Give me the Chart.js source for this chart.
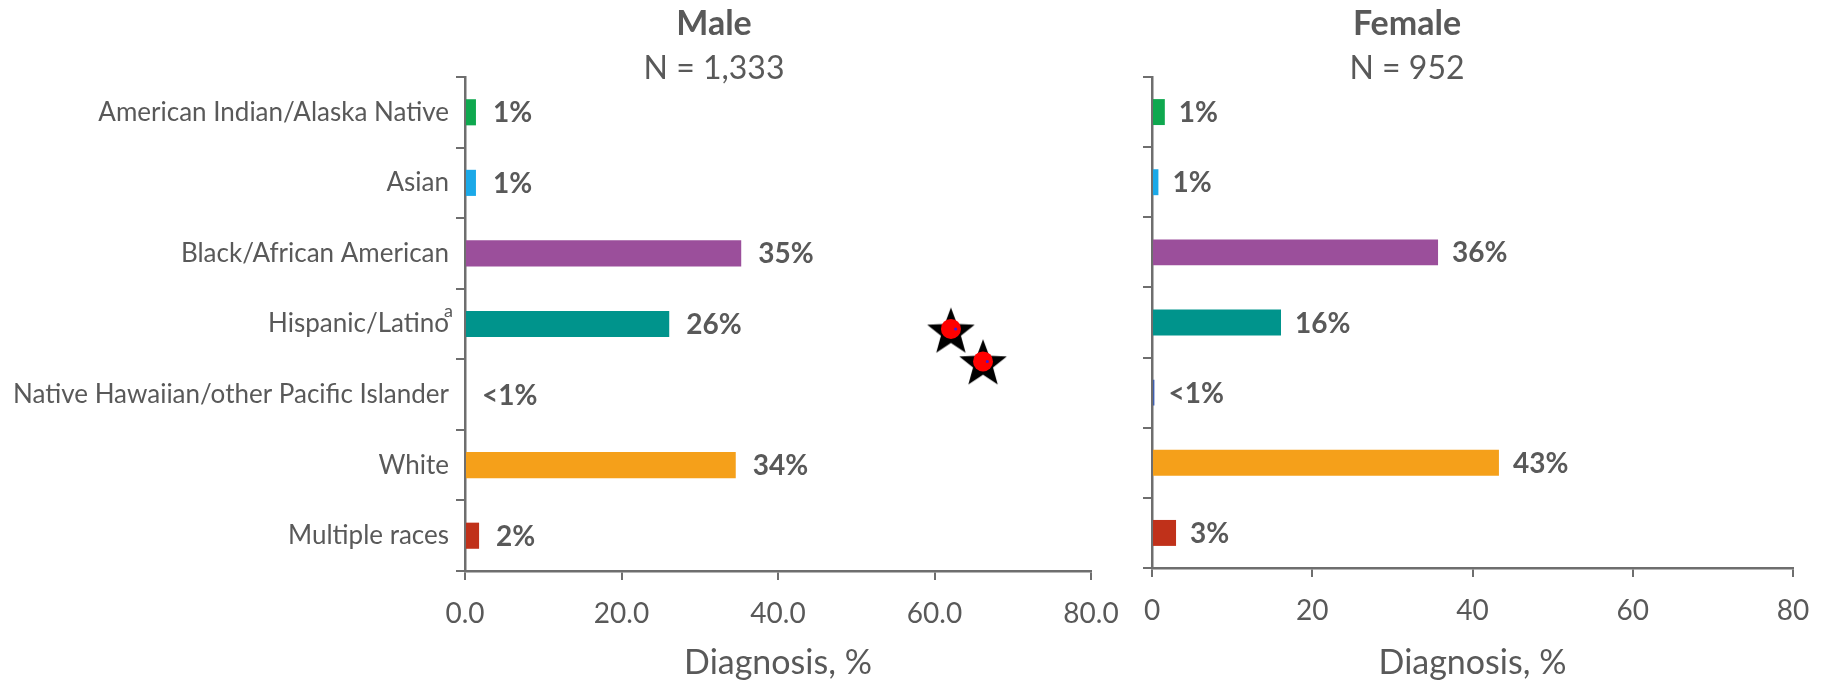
<!DOCTYPE html>
<html>
<head>
<meta charset="utf-8">
<title>Diagnosis by race and sex</title>
<script src="https://cdn.jsdelivr.net/npm/chart.js@4"></script>
<style>
    html, body { margin: 0; padding: 0; background: #fff; width: 1829px; height: 680px; overflow: hidden; }
    .caja { position: absolute; top: 0; height: 680px; }
    #graficoMale, #graficoEstrellas { left: 0; width: 1428px; }
    #graficoFemale { left: 985px; width: 844px; }
</style>
</head>
<body>
<div class="caja" id="graficoMale"><canvas id="canvasMale"></canvas></div>
<div class="caja" id="graficoFemale"><canvas id="canvasFemale"></canvas></div>
<div class="caja" id="graficoEstrellas"><canvas id="canvasEstrellas"></canvas></div>
<script>
const categorias = [
    'American Indian/Alaska Native',
    'Asian',
    'Black/African American',
    'Hispanic/Latino',
    'Native Hawaiian/other Pacific Islander',
    'White',
    'Multiple races'
];
const valoresMale = [1.4, 1.4, 35.3, 26.1, 0, 34.6, 1.8];
const valoresFemale = [1.6, 0.8, 35.7, 16.1, 0.3, 43.3, 3.0];
const etiquetasMale = ['1%', '1%', '35%', '26%', '<1%', '34%', '2%'];
const etiquetasFemale = ['1%', '1%', '36%', '16%', '<1%', '43%', '3%'];
const colores = ['#0fa84f', '#1ba9e8', '#9b4f9b', '#00948c', '#3f5fb0', '#f5a01a', '#c0311a'];
const ticksX = [0, 20, 40, 60, 80];

// the two stars sitting between the panels (x on male axis, y in category bands)
const estrellasX = [62.1, 66.2];
const estrellasY = [3.62, 4.07];
const circulosX = [62.1, 66.2];
const circulosY = [3.57, 4.03];
const puntosX = [62.7, 66.75];
const puntosY = [3.57, 4.03];

const GRIS = '#595959';
const EJE = '#6e6e6e';
const FUENTE = 'Lato, "Open Sans", sans-serif';

function pares(xs, ys) {
    return xs.map((x, i) => ({ x: x, y: ys[i] }));
}

function crearEstrella(r) {
    const c = document.createElement('canvas');
    c.width = c.height = r * 2 + 2;
    const ctx = c.getContext('2d');
    ctx.fillStyle = '#000';
    ctx.beginPath();
    for (let i = 0; i < 10; i++) {
        const rad = i % 2 === 0 ? r : r * 0.42;
        const ang = -Math.PI / 2 + i * Math.PI / 5;
        ctx.lineTo(r + 1 + rad * Math.cos(ang), r + 1 + rad * Math.sin(ang));
    }
    ctx.closePath();
    ctx.fill();
    return c;
}

// bold % labels next to each bar, plus the superscript on Hispanic/Latino
const pluginEtiquetas = {
    id: 'etiquetas',
    afterDatasetsDraw(chart, args, opts) {
        const ctx = chart.ctx;
        const barras = chart.getDatasetMeta(0).data;
        ctx.save();
        ctx.fillStyle = GRIS;
        ctx.font = 'bold 28px ' + FUENTE;
        ctx.textBaseline = 'middle';
        ctx.textAlign = 'left';
        barras.forEach((b, i) => {
            ctx.fillText(opts.textos[i], b.x + opts.gap, b.y + 1);
        });
        if (opts.superindice) {
            const y = chart.scales.y.getPixelForValue(3);
            ctx.font = '18px ' + FUENTE;
            ctx.fillText('a', chart.chartArea.left - 21, y - 13);
        }
        ctx.restore();
    }
};

function crearPanel(id, cfg) {
    return new Chart(document.getElementById(id), {
        type: 'bar',
        data: {
            labels: categorias,
            datasets: [{
                data: cfg.valores,
                backgroundColor: colores,
                categoryPercentage: 1,
                barPercentage: 0.37
            }]
        },
        plugins: [pluginEtiquetas],
        options: {
            indexAxis: 'y',
            responsive: true,
            maintainAspectRatio: false,
            animation: false,
            layout: { padding: { left: 0, right: 0, top: 7, bottom: 0 } },
            plugins: {
                legend: { display: false },
                tooltip: { enabled: false },
                title: {
                    display: true,
                    text: cfg.titulo,
                    color: GRIS,
                    font: { family: FUENTE, size: 34, weight: 'bold', lineHeight: 1 },
                    padding: { top: 0, bottom: 20 }
                },
                subtitle: {
                    display: true,
                    text: cfg.subtitulo,
                    color: GRIS,
                    font: { family: FUENTE, size: 32, weight: 'normal', lineHeight: 0.5 },
                    padding: { top: 0, bottom: 0 }
                },
                etiquetas: { textos: cfg.etiquetas, gap: cfg.gap, superindice: cfg.conEtiquetas }
            },
            scales: {
                x: {
                    type: 'linear',
                    min: 0,
                    max: 80,
                    position: 'bottom',
                    afterBuildTicks: s => { s.ticks = ticksX.map(v => ({ value: v })); },
                    // paddingRight keeps the plot short of the canvas edge, the title still centres on the whole canvas
                    afterFit: s => { s.height = cfg.altoX; s.paddingLeft = 0; s.paddingRight = cfg.margenDerecho; },
                    grid: { drawOnChartArea: false, drawTicks: true, tickLength: 9, color: EJE, lineWidth: 2 },
                    border: { color: EJE, width: 2.5 },
                    ticks: {
                        color: GRIS,
                        font: { family: FUENTE, size: 28 },
                        padding: 17,
                        maxRotation: 0,
                        callback: v => cfg.decimales ? Number(v).toFixed(1) : String(v)
                    },
                    title: {
                        display: true,
                        text: 'Diagnosis, %',
                        color: GRIS,
                        font: { family: FUENTE, size: 34, lineHeight: 1 },
                        padding: { top: 10, bottom: 0 }
                    }
                },
                y: {
                    type: 'category',
                    afterFit: s => { s.width = cfg.anchoY; },
                    grid: { drawOnChartArea: false, drawTicks: true, tickLength: 9, color: EJE, lineWidth: 2, offset: true },
                    border: { color: EJE, width: 2.5 },
                    ticks: {
                        display: cfg.conEtiquetas,
                        color: GRIS,
                        font: { family: FUENTE, size: 26 },
                        padding: 7,
                        autoSkip: false
                    }
                }
            }
        }
    });
}

crearPanel('canvasMale', {
    titulo: 'Male', subtitulo: 'N = 1,333',
    valores: valoresMale, etiquetas: etiquetasMale,
    anchoY: 465, altoX: 109, margenDerecho: 337,
    decimales: true, conEtiquetas: true, gap: 17
});
crearPanel('canvasFemale', {
    titulo: 'Female', subtitulo: 'N = 952',
    valores: valoresFemale, etiquetas: etiquetasFemale,
    anchoY: 167, altoX: 112, margenDerecho: 36,
    decimales: false, conEtiquetas: false, gap: 14
});

// overlay on the same plot box as the male panel, so the stars use its 0-80 scale
new Chart(document.getElementById('canvasEstrellas'), {
    type: 'scatter',
    data: {
        datasets: [
            { data: pares(puntosX, puntosY), pointStyle: 'circle', pointRadius: 1.5, backgroundColor: '#3a1ae0', borderWidth: 0 },
            { data: pares(circulosX, circulosY), pointStyle: 'circle', pointRadius: 10, backgroundColor: '#ff0000', borderWidth: 0 },
            { data: pares(estrellasX, estrellasY), pointStyle: crearEstrella(25), pointRadius: 25 }
        ]
    },
    options: {
        responsive: true,
        maintainAspectRatio: false,
        animation: false,
        layout: { padding: { left: 465, right: 337, top: 77, bottom: 109 } },
        plugins: { legend: { display: false }, tooltip: { enabled: false } },
        scales: {
            x: { type: 'linear', display: false, min: 0, max: 80 },
            y: { type: 'linear', display: false, min: 0, max: 7, reverse: true }
        }
    }
});
</script>
</body>
</html>
